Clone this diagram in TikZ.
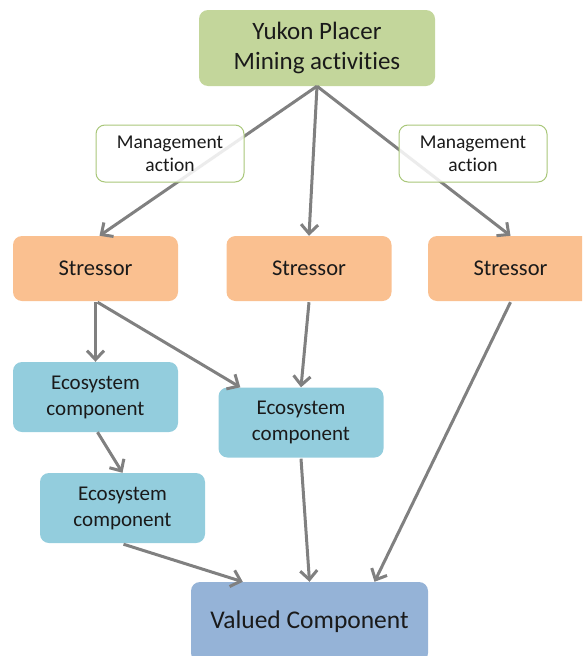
\documentclass[tikz,border=0pt]{standalone}
\usepackage{fontspec}
\setmainfont{Carlito}[Ligatures={NoCommon}]
\usetikzlibrary{arrows.meta,calc}
\definecolor{topgreen}{HTML}{C3D69B}
\definecolor{mgmtborder}{HTML}{A9C77A}
\definecolor{stressfill}{HTML}{FAC090}
\definecolor{ecofill}{HTML}{93CDDD}
\definecolor{valfill}{HTML}{95B3D7}
\definecolor{arrowgray}{HTML}{808080}
\definecolor{txt}{HTML}{1A1A1A}
\tikzset{
  base/.style={rounded corners=9pt, align=center, text=txt, inner sep=0pt},
  topbox/.style={base, fill=topgreen, minimum width=236pt, minimum height=76pt, font=\fontsize{25}{30}\selectfont},
  mgmtbox/.style={base, draw=mgmtborder, line width=1pt, fill=white, fill opacity=0.85, text opacity=1, minimum width=148pt, minimum height=57pt, font=\fontsize{19.5}{23}\selectfont},
  stressbox/.style={base, fill=stressfill, minimum width=165pt, minimum height=65pt, font=\fontsize{22.5}{26}\selectfont},
  ecobox/.style={base, fill=ecofill, minimum width=165pt, minimum height=70pt, font=\fontsize{21}{26}\selectfont},
  valbox/.style={base, fill=valfill, minimum width=237pt, minimum height=80pt, font=\fontsize{25.5}{30}\selectfont},
  conn/.style={draw=arrowgray, line width=3pt, -{Straight Barb[length=9pt,width=17pt,line width=3pt]}},
}
\begin{document}
\begin{tikzpicture}[x=1pt,y=-1pt]
\useasboundingbox (0,0) rectangle (582,656);
\clip (0,0) rectangle (582,656);
\node[topbox] (top) at (317,48) {Yukon Placer\\Mining activities};
\node[stressbox] (s1) at (95.5,268.5) {Stressor};
\node[stressbox] (s2) at (309,268.5) {Stressor};
\node[stressbox] (s3) at (510.5,268.5) {Stressor};
\node[ecobox] (e1) at (95.5,397) {Ecosystem\\component};
\node[ecobox] (e2) at (301,422.5) {Ecosystem\\component};
\node[ecobox] (e3) at (122.5,508) {Ecosystem\\component};
\node[valbox] (v) at (309.5,622) {Valued Component};
\draw[conn] (top.south) -- ($(s1.north)+(4,0)$);
\draw[conn] (top.south) -- (s2.north);
\draw[conn] (top.south) -- (s3.north);
\draw[conn] ($(s1.south)+(0,1)$) -- (e1.north);
\draw[conn] ($(s1.south)+(2,1)$) -- ($(e2.north west)+(22,0)$);
\draw[conn] ($(s2.south)+(0,1)$) -- (e2.north);
\draw[conn] ($(s3.south)+(0,1)$) -- ($(v.north)+(65,0)$);
\draw[conn] ($(e1.south)+(2,0)$) -- (e3.north);
\draw[conn] ($(e3.south)+(1,1)$) -- ($(v.north west)+(52,0)$);
\draw[conn] ($(e2.south)+(0,1)$) -- (v.north);
\node[mgmtbox] (m1) at (170,153.5) {Management\\action};
\node[mgmtbox] (m2) at (473,153.5) {Management\\action};
\end{tikzpicture}
\end{document}
